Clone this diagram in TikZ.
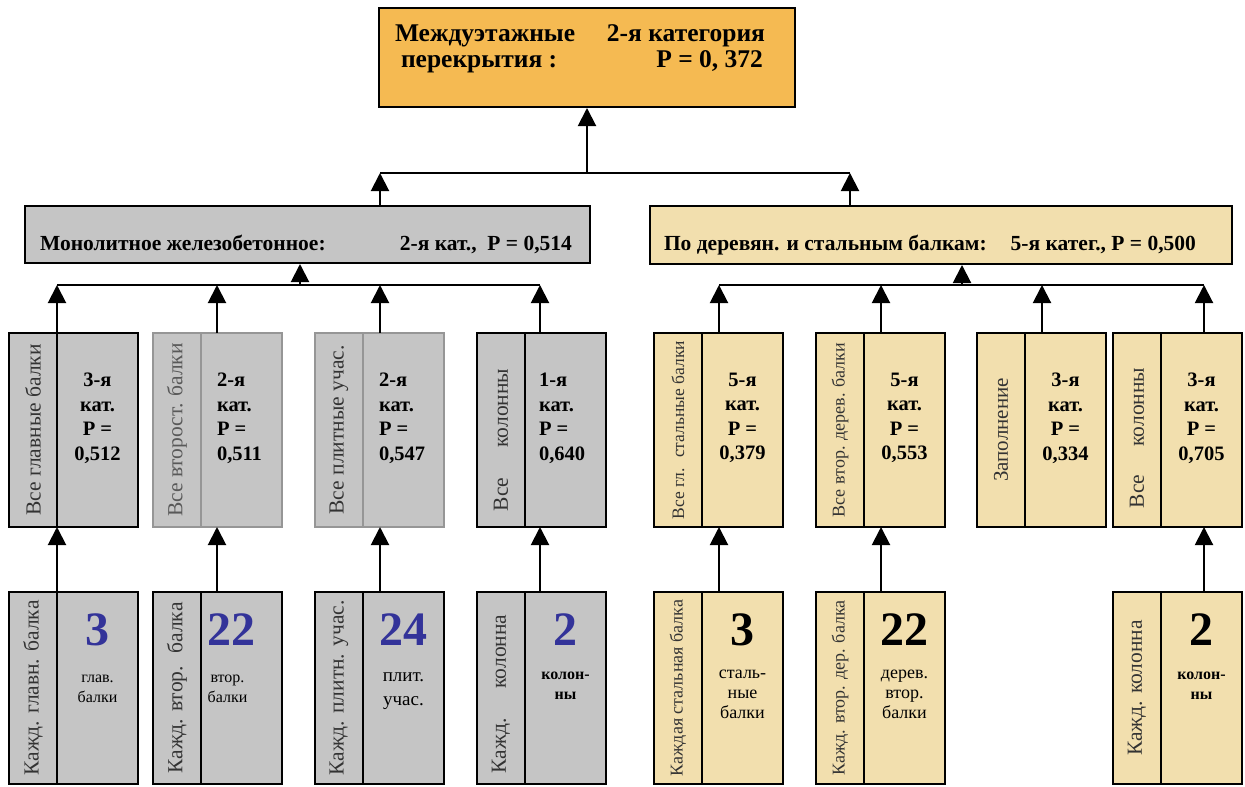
\documentclass[tikz,border=0pt]{standalone}
\usepackage{fontspec}
\setmainfont{Liberation Serif}
\usetikzlibrary{arrows.meta, positioning}

\definecolor{topfill}{RGB}{245,186,82}
\definecolor{greyfill}{RGB}{197,197,197}
\definecolor{tanfill}{RGB}{242,223,174}
\definecolor{numblue}{RGB}{51,51,153}
\definecolor{softedge}{RGB}{150,150,150}
\newcommand{\fsz}[2]{\fontsize{#1}{#2}\selectfont}

\begin{document}
\begin{tikzpicture}[x=1pt, y=-1pt, line width=2pt,
  part/.style={draw, line width=2pt, minimum height=194, inner sep=0pt, outer sep=0pt},
  lpart/.style={part, minimum width=48},
  rpart/.style={part, minimum width=81},
  low/.style={minimum height=192},
  grey/.style={fill=greyfill},
  tan/.style={fill=tanfill},
  soft/.style={draw=softedge},
  vlab/.style={rotate=90, inner sep=0pt, font=\fsz{21.5}{24}, text=black!80},
  val/.style={inner sep=0pt, align=center, font=\bfseries\fsz{20.5}{24.5}},
  valL/.style={val, align=left},
  bignum/.style={inner sep=0pt, font=\bfseries\fsz{48}{48}},
  note/.style={inner sep=0pt, align=center, font=\fsz{17}{21}},
  up/.style={-{Triangle[width=18pt,length=18pt]}}]
\useasboundingbox (0,0) rectangle (1245,787);

% top level
\node[draw, fill=topfill, minimum width=416, minimum height=99, inner sep=0pt] (top) at (587,57.5) {};
\node[anchor=base, inner sep=0pt, font=\bfseries\fsz{25.5}{28}] (topA) at (580,41) {\makebox[370pt]{Междуэтажные\hfill 2-я категория}};
\node[anchor=base, inner sep=0pt, font=\bfseries\fsz{25.5}{28}] (topB) at (582,67) {\makebox[362pt]{перекрытия :\hfill P = 0, 372}};

% second level
\node[draw, fill=greyfill, minimum width=565, minimum height=57, inner sep=0pt] (mono) at (307.5,234.5) {};
\node[anchor=base, inner sep=0pt, font=\bfseries\fsz{21.5}{24}] (monoT) at (306,250) {\makebox[532pt]{Монолитное железобетонное:\hfill 2-я кат.,\ \ P = 0,514}};
\node[draw, fill=tanfill, minimum width=582, minimum height=58, inner sep=0pt] (wood) at (941,235) {};
\node[anchor=base, inner sep=0pt, font=\bfseries\fsz{21.5}{24}] (woodT) at (930,250) {\makebox[532pt]{По деревян. и стальным балкам:\hfill 5-я катег., P = 0,500}};

% all elements
\node[lpart, grey] (a1L) at (33,430) {};
\node[rpart, grey, right=0pt of a1L] (a1R) {};
\node[lpart, grey, soft] (a2L) at (177,430) {};
\node[rpart, grey, soft, right=0pt of a2L] (a2R) {};
\node[lpart, grey, soft] (a3L) at (339,430) {};
\node[rpart, grey, soft, right=0pt of a3L] (a3R) {};
\node[lpart, grey] (a4L) at (501,430) {};
\node[rpart, grey, right=0pt of a4L] (a4R) {};
\node[lpart, tan] (a5L) at (678,430) {};
\node[rpart, tan, right=0pt of a5L] (a5R) {};
\node[lpart, tan] (a6L) at (840,430) {};
\node[rpart, tan, right=0pt of a6L] (a6R) {};
\node[lpart, tan] (a7L) at (1001,430) {};
\node[rpart, tan, right=0pt of a7L] (a7R) {};
\node[lpart, tan] (a8L) at (1137,430) {};
\node[rpart, tan, right=0pt of a8L] (a8R) {};

\node[vlab] (a1V) at (a1L) {Все главные балки};
\node[vlab, text=black!65] (a2V) at (a2L) {Все второст. балки};
\node[vlab] (a3V) at (a3L) {Все плитные учас.};
\node[vlab, xshift=-10pt] (a4V) at (a4L) {Все\hspace{30pt}колонны};
\node[vlab, font=\fsz{17.5}{20}] (a5V) at (a5L) {Все гл. \ стальные балки};
\node[vlab, font=\fsz{18}{20}] (a6V) at (a6L) {Все втор. дерев. балки};
\node[vlab, font=\fsz{21}{24}] (a7V) at (a7L) {Заполнение};
\node[vlab, xshift=-8pt] (a8V) at (a8L) {Все\hspace{28pt}колонны};

\node[val, below=39pt of a1R.north] (a1T) {3-я\\кат.\\P =\\0,512};
\node[valL, below right=39pt and 15pt of a2R.north west] (a2T) {2-я\\кат.\\P =\\0,511};
\node[valL, below right=39pt and 15pt of a3R.north west] (a3T) {2-я\\кат.\\P =\\0,547};
\node[valL, below right=39pt and 13pt of a4R.north west] (a4T) {1-я\\кат.\\P =\\0,640};
\node[val, below=39pt of a5R.north] (a5T) {5-я\\кат.\\P =\\0,379};
\node[val, below=39pt of a6R.north] (a6T) {5-я\\кат.\\P =\\0,553};
\node[val, below=39pt of a7R.north] (a7T) {3-я\\кат.\\P =\\0,334};
\node[val, below=39pt of a8R.north] (a8T) {3-я\\кат.\\P =\\0,705};

% each element
\node[lpart, low, grey] (e1L) at (33,688) {};
\node[rpart, low, grey, right=0pt of e1L] (e1R) {};
\node[lpart, low, grey] (e2L) at (177,688) {};
\node[rpart, low, grey, right=0pt of e2L] (e2R) {};
\node[lpart, low, grey] (e3L) at (339,688) {};
\node[rpart, low, grey, right=0pt of e3L] (e3R) {};
\node[lpart, low, grey] (e4L) at (501,688) {};
\node[rpart, low, grey, right=0pt of e4L] (e4R) {};
\node[lpart, low, tan] (e5L) at (678,688) {};
\node[rpart, low, tan, right=0pt of e5L] (e5R) {};
\node[lpart, low, tan] (e6L) at (840,688) {};
\node[rpart, low, tan, right=0pt of e6L] (e6R) {};
\node[lpart, low, tan] (e8L) at (1137,688) {};
\node[rpart, low, tan, right=0pt of e8L] (e8R) {};

\node[vlab] (e1V) at (e1L) {Кажд. главн. балка};
\node[vlab] (e2V) at (e2L) {Кажд. втор. \ балка};
\node[vlab] (e3V) at (e3L) {Кажд. плитн. учас.};
\node[vlab, xshift=-6pt] (e4V) at (e4L) {Кажд.\hspace{30pt}колонна};
\node[vlab, font=\fsz{18}{20}] (e5V) at (e5L) {Каждая стальная балка};
\node[vlab, font=\fsz{18}{20}] (e6V) at (e6L) {Кажд. втор. дер. балка};
\node[vlab] (e8V) at (e8L) {Кажд. колонна};

\node[bignum, text=numblue, below=21pt of e1R.north] (e1N) {3};
\node[note, font=\fsz{16}{20}, below=27pt of e1N] (e1T) {глав.\\балки};
\node[bignum, text=numblue, below=21pt of e2R.north, xshift=-10pt] (e2N) {22};
\node[note, font=\fsz{16}{20}, below=27pt of e2N, xshift=-4pt] (e2T) {втор.\\балки};
\node[bignum, text=numblue, below=21pt of e3R.north] (e3N) {24};
\node[note, font=\fsz{19}{24}, below=25pt of e3N] (e3T) {плит.\\учас.};
\node[bignum, text=numblue, below=21pt of e4R.north] (e4N) {2};
\node[note, font=\bfseries\fsz{16}{20}, below=24pt of e4N] (e4T) {колон-\\ны};
\node[bignum, below=21pt of e5R.north] (e5N) {3};
\node[note, font=\fsz{18}{20}, below=22pt of e5N] (e5T) {сталь-\\ные\\балки};
\node[bignum, below=21pt of e6R.north] (e6N) {22};
\node[note, font=\fsz{18}{20}, below=22pt of e6N] (e6T) {дерев.\\втор.\\балки};
\node[bignum, below=21pt of e8R.north] (e8N) {2};
\node[note, font=\bfseries\fsz{16}{20}, below=24pt of e8N] (e8T) {колон-\\ны};

% connectors
\coordinate (busT) at (587,173);
\coordinate (busL) at (300,285);
\coordinate (busR) at (962,285);
\draw[up] (busT) -- (top.south);
\draw ([xshift=72.5pt]mono.north |- busT) -- ([xshift=-91pt]wood.north |- busT);
\draw[up] ([xshift=72.5pt]mono.north) -- ([xshift=72.5pt]mono.north |- busT);
\draw[up] ([xshift=-91pt]wood.north) -- ([xshift=-91pt]wood.north |- busT);

\draw[up] (busL) -- (busL |- mono.south);
\draw (a1L.north east |- busL) -- ([xshift=15pt]a4R.north west |- busL);
\draw[up] (a1L.north east) -- (a1L.north east |- busL);
\draw[up] ([xshift=16pt]a2R.north west) -- ([xshift=16pt]a2R.north west |- busL);
\draw[up] ([xshift=17pt]a3R.north west) -- ([xshift=17pt]a3R.north west |- busL);
\draw[up] ([xshift=15pt]a4R.north west) -- ([xshift=15pt]a4R.north west |- busL);

\draw[up] (busR) -- (busR |- wood.south);
\draw ([xshift=17pt]a5R.north west |- busR) -- ([xshift=43pt]a8R.north west |- busR);
\draw[up] ([xshift=17pt]a5R.north west) -- ([xshift=17pt]a5R.north west |- busR);
\draw[up] ([xshift=17pt]a6R.north west) -- ([xshift=17pt]a6R.north west |- busR);
\draw[up] ([xshift=17pt]a7R.north west) -- ([xshift=17pt]a7R.north west |- busR);
\draw[up] ([xshift=43pt]a8R.north west) -- ([xshift=43pt]a8R.north west |- busR);

\draw[up] (e1L.north east) -- (a1L.south east);
\draw[up] ([xshift=16pt]e2R.north west) -- ([xshift=16pt]a2R.south west);
\draw[up] ([xshift=17pt]e3R.north west) -- ([xshift=17pt]a3R.south west);
\draw[up] ([xshift=15pt]e4R.north west) -- ([xshift=15pt]a4R.south west);
\draw[up] ([xshift=17pt]e5R.north west) -- ([xshift=17pt]a5R.south west);
\draw[up] ([xshift=17pt]e6R.north west) -- ([xshift=17pt]a6R.south west);
\draw[up] ([xshift=43pt]e8R.north west) -- ([xshift=43pt]a8R.south west);
\end{tikzpicture}
\end{document}
